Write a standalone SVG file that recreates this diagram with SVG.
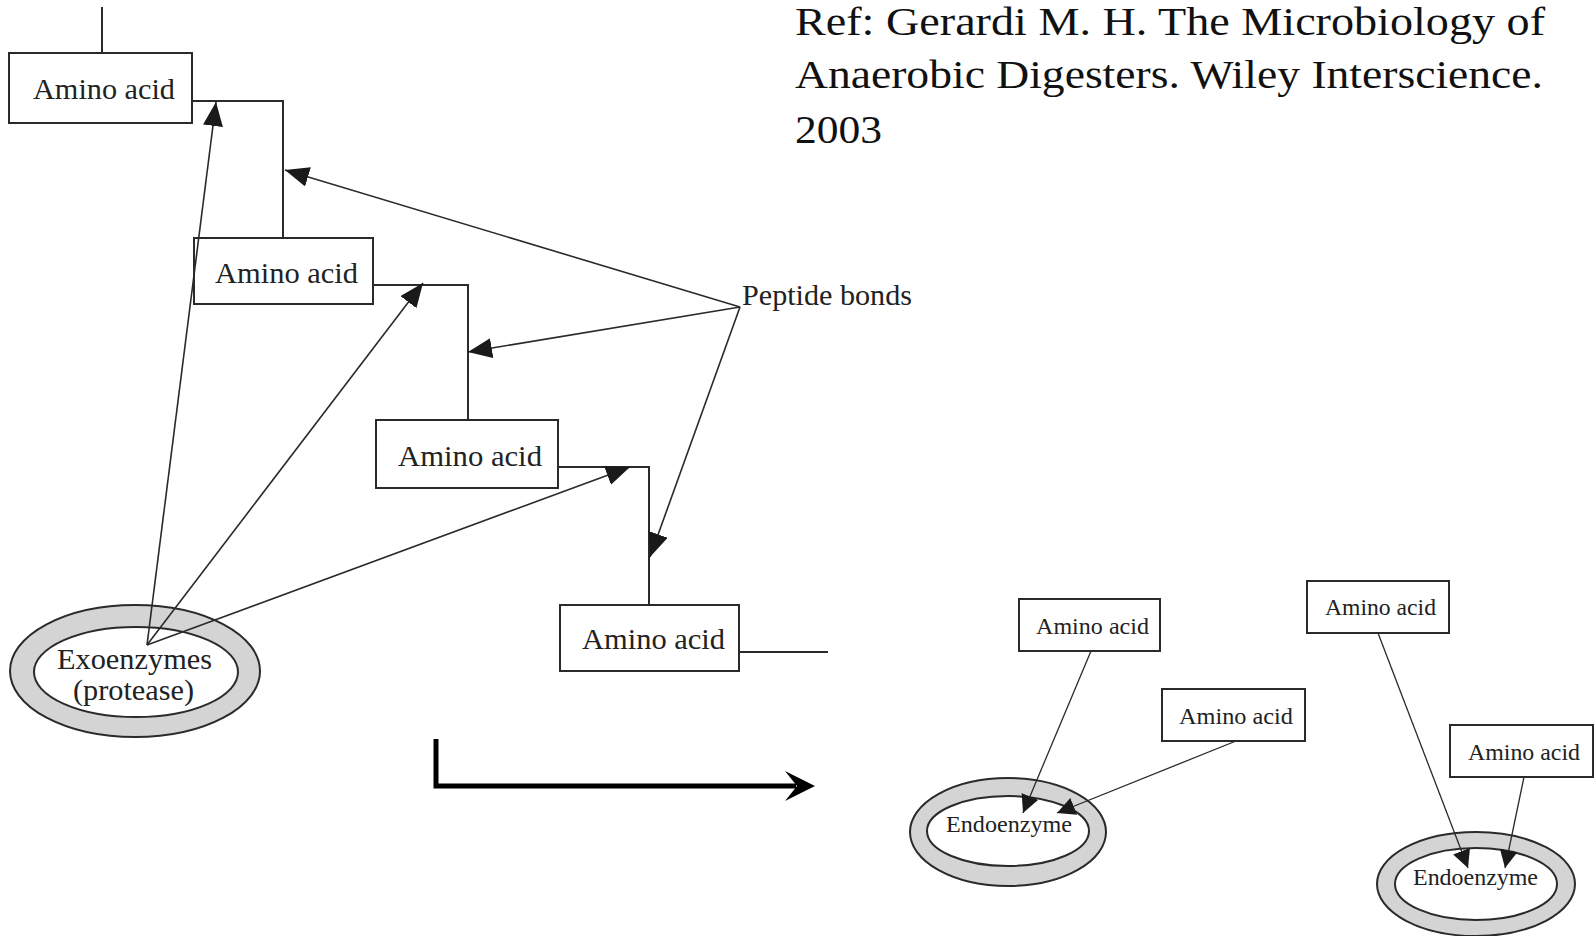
<svg xmlns="http://www.w3.org/2000/svg" width="1595" height="936" viewBox="0 0 1595 936">
<defs>
<style>
.box{fill:#fff;stroke:#2a2a2a;stroke-width:2}
.ring{fill:#d4d4d4;stroke:#2a2a2a;stroke-width:2}
.inner{fill:#fff;stroke:#2a2a2a;stroke-width:2}
.t{font-family:"Liberation Serif","Times New Roman",serif;fill:#222}
.big{font-size:30px}
.small{font-size:24px}
.ref{font-size:40px;fill:#111}
.line{fill:none;stroke:#2a2a2a;stroke-width:2}
.arr{fill:none;stroke:#2a2a2a;stroke-width:1.6;marker-end:url(#ah)}
.arrs{fill:none;stroke:#2a2a2a;stroke-width:1.3;marker-end:url(#ahs)}
</style>
<marker id="ah" markerUnits="userSpaceOnUse" markerWidth="26" markerHeight="22" refX="24" refY="10" orient="auto">
<path d="M0,0 L24,10 L0,20 Z" fill="#1a1a1a"/>
</marker>
<marker id="ahs" markerUnits="userSpaceOnUse" markerWidth="20" markerHeight="20" refX="18" refY="9" orient="auto">
<path d="M0,0 L18,9 L0,18 Z" fill="#1a1a1a"/>
</marker>
</defs>
<rect width="1595" height="936" fill="#fff"/>

<g id="reference">
<text class="t ref" x="795" y="35" textLength="750" lengthAdjust="spacingAndGlyphs">Ref: Gerardi M. H. The Microbiology of</text>
<text class="t ref" x="795" y="88" textLength="748" lengthAdjust="spacingAndGlyphs">Anaerobic Digesters. Wiley Interscience.</text>
<text class="t ref" x="795" y="143" textLength="87" lengthAdjust="spacingAndGlyphs">2003</text>
</g>

<g id="exoenzymes">
<ellipse class="ring" cx="135" cy="671" rx="125" ry="66"/>
<ellipse class="inner" cx="136" cy="672" rx="102" ry="45"/>
<text class="t big" x="57" y="669" textLength="155" lengthAdjust="spacingAndGlyphs">Exoenzymes</text>
<text class="t big" x="73" y="700" textLength="121" lengthAdjust="spacingAndGlyphs">(protease)</text>
</g>

<g id="endoenzyme1">
<ellipse class="ring" cx="1008" cy="832" rx="98" ry="54"/>
<ellipse class="inner" cx="1008" cy="831" rx="81" ry="35"/>
<text class="t small" x="946" y="832" textLength="126" lengthAdjust="spacingAndGlyphs">Endoenzyme</text>
</g>

<g id="endoenzyme2">
<ellipse class="ring" cx="1476" cy="884" rx="99" ry="52"/>
<ellipse class="inner" cx="1476" cy="884" rx="81" ry="36"/>
<text class="t small" x="1413" y="885" textLength="125" lengthAdjust="spacingAndGlyphs">Endoenzyme</text>
</g>

<g id="aa1"><rect class="box" x="9" y="53" width="183" height="70"/>
<text class="t big" x="33" y="99" textLength="142" lengthAdjust="spacingAndGlyphs">Amino acid</text></g>
<g id="aa2"><rect class="box" x="194" y="238" width="179" height="66"/>
<text class="t big" x="215" y="283" textLength="143" lengthAdjust="spacingAndGlyphs">Amino acid</text></g>
<g id="aa3"><rect class="box" x="376" y="420" width="182" height="68"/>
<text class="t big" x="398" y="466" textLength="144" lengthAdjust="spacingAndGlyphs">Amino acid</text></g>
<g id="aa4"><rect class="box" x="560" y="605" width="179" height="66"/>
<text class="t big" x="582" y="649" textLength="143" lengthAdjust="spacingAndGlyphs">Amino acid</text></g>

<g id="peptide"><text class="t big" x="742" y="305" textLength="170" lengthAdjust="spacingAndGlyphs">Peptide bonds</text></g>

<g id="aaA"><rect class="box" x="1019" y="599" width="141" height="52"/>
<text class="t small" x="1036" y="634" textLength="113" lengthAdjust="spacingAndGlyphs">Amino acid</text></g>
<g id="aaB"><rect class="box" x="1162" y="689" width="143" height="52"/>
<text class="t small" x="1179" y="724" textLength="114" lengthAdjust="spacingAndGlyphs">Amino acid</text></g>
<g id="aaC"><rect class="box" x="1307" y="581" width="142" height="52"/>
<text class="t small" x="1325" y="615" textLength="111" lengthAdjust="spacingAndGlyphs">Amino acid</text></g>
<g id="aaD"><rect class="box" x="1450" y="725" width="143" height="52"/>
<text class="t small" x="1468" y="760" textLength="112" lengthAdjust="spacingAndGlyphs">Amino acid</text></g>

<g id="connectors">
<path class="line" d="M102,7 V53"/>
<path class="line" d="M192,101 H283 V238"/>
<path class="line" d="M373,285 H468 V420"/>
<path class="line" d="M558,467 H649 V605"/>
<path class="line" d="M739,652 H828"/>
<path class="arr" d="M147,645 L216,102"/>
<path class="arr" d="M147,645 L423,283"/>
<path class="arr" d="M147,645 L630,467"/>
<path class="arr" d="M740,307 L285,170"/>
<path class="arr" d="M740,307 L468,352"/>
<path class="arr" d="M740,307 L650,557"/>
<path class="arrs" d="M1091,651 L1023,813"/>
<path class="arrs" d="M1236,741 L1057,813"/>
<path class="arrs" d="M1378,633 L1468,868"/>
<path class="arrs" d="M1524,777 L1505,868"/>
<path d="M436,739 V786 H796" fill="none" stroke="#000" stroke-width="5"/>
<path d="M815,786 L785,771 L797,786 L785,801 Z" fill="#000"/>
</g>
</svg>
